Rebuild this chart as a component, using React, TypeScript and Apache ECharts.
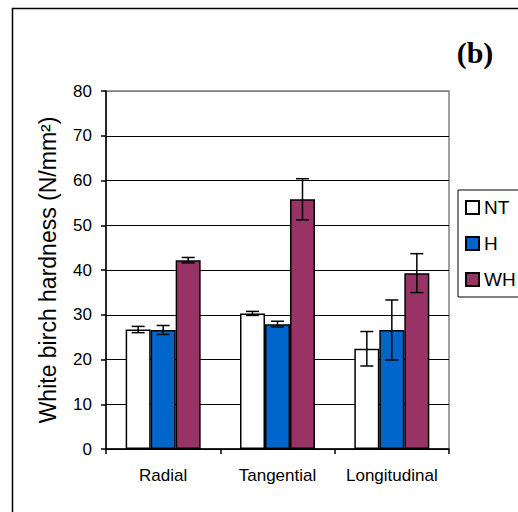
import React, { useEffect, useRef } from "react";
import * as echarts from "echarts";

const categories = ["Radial", "Tangential", "Longitudinal"];
const seriesNames = ["NT", "H", "WH"];
const ntMean = [26.7, 30.3, 22.4];
const ntErr = [0.7, 0.45, 3.85];
const hMean = [26.6, 27.9, 26.6];
const hErr = [1.0, 0.65, 6.7];
const whMean = [42.2, 55.8, 39.3];
const whErr = [0.6, 4.6, 4.35];
const yTicks = [0, 10, 20, 30, 40, 50, 60, 70, 80];

const colors = ["#FFFFFF", "#0066CC", "#993366"];
const BAR_W = 25;
const FONT = "Liberation Sans, Arial, sans-serif";

const means = [ntMean, hMean, whMean];
const errs = [ntErr, hErr, whErr];

export default function App() {
  const ref = useRef<HTMLDivElement>(null);
  useEffect(() => {
    if (!ref.current) return;
    const chart = echarts.init(ref.current, undefined, { renderer: "svg" });

    const barSeries = seriesNames.map((name, i) => ({
      name,
      type: "bar",
      data: means[i],
      barWidth: BAR_W,
      barGap: "0%",
      itemStyle: { color: colors[i], borderColor: "#000", borderWidth: 1.5 },
      z: 2,
    }));

    const errSeries = seriesNames.map((name, i) => ({
      name: name + "-err",
      type: "custom",
      data: categories.map((_, c) => [c, means[i][c] - errs[i][c], means[i][c] + errs[i][c]]),
      encode: { x: 0, y: [1, 2] },
      z: 5,
      silent: true,
      renderItem: (params: any, api: any) => {
        const c = api.value(0);
        const lo = api.coord([c, api.value(1)]);
        const hi = api.coord([c, api.value(2)]);
        const x = lo[0] + (i - 1) * BAR_W;
        const cap = 6.5;
        const style = { stroke: "#000", lineWidth: 1.5 };
        return {
          type: "group",
          children: [
            { type: "line", shape: { x1: x, y1: lo[1], x2: x, y2: hi[1] }, style },
            { type: "line", shape: { x1: x - cap, y1: lo[1], x2: x + cap, y2: lo[1] }, style },
            { type: "line", shape: { x1: x - cap, y1: hi[1], x2: x + cap, y2: hi[1] }, style },
          ],
        };
      },
    }));

    const splitColors = yTicks.map((t, k) => (k === yTicks.length - 1 ? "#808080" : "#000"));

    chart.setOption({
      animation: false,
      backgroundColor: "#fff",
      grid: {
        left: 106,
        right: 69,
        top: 91,
        bottom: 63,
        show: true,
        borderColor: "#808080",
        borderWidth: 1.5,
        backgroundColor: "transparent",
      },
      legend: {
        data: seriesNames,
        orient: "vertical",
        left: 458,
        top: 190,
        icon: "rect",
        itemWidth: 13,
        itemHeight: 13,
        itemGap: 17,
        padding: [8, 40, 8, 7],
        borderColor: "#000",
        borderWidth: 1,
        backgroundColor: "#fff",
        textStyle: { fontFamily: FONT, fontSize: 19, color: "#000" },
      },
      xAxis: {
        type: "category",
        data: categories,
        axisLine: { lineStyle: { color: "#000", width: 1.5 } },
        axisTick: { show: true, length: 5, lineStyle: { color: "#000", width: 1.5 } },
        axisLabel: { fontFamily: FONT, fontSize: 17, color: "#000", margin: 18, interval: 0 },
      },
      yAxis: {
        type: "value",
        min: 0,
        max: 80,
        interval: 10,
        name: "White birch hardness (N/mm²)",
        nameLocation: "middle",
        nameGap: 47,
        nameTextStyle: { fontFamily: FONT, fontSize: 23, color: "#000" },
        axisLine: { show: true, lineStyle: { color: "#000", width: 1.5 } },
        axisTick: { show: true, length: 5, lineStyle: { color: "#000", width: 1.5 } },
        axisLabel: { fontFamily: FONT, fontSize: 17, color: "#000", margin: 14 },
        splitLine: { show: true, lineStyle: { color: splitColors, width: 1.2 } },
      },
      graphic: [
        {
          type: "rect",
          left: 10,
          top: 6,
          shape: { x: 0, y: 0, width: 600, height: 600 },
          style: { fill: "none", stroke: "#000", lineWidth: 1.5 },
          silent: true,
          z: -10,
        },
        {
          type: "text",
          x: 475,
          y: 52,
          style: {
            text: "(b)",
            fontFamily: "Liberation Serif, Times New Roman, serif",
            fontWeight: "bold",
            fontSize: 30,
            fill: "#000",
            align: "center",
            verticalAlign: "middle",
          },
        },
      ],
      series: [...barSeries, ...errSeries],
    });
    return () => chart.dispose();
  }, []);
  return (
    <div style={{ position: "fixed", left: 0, top: 0, width: 518, height: 512, background: "#fff" }}>
      <div ref={ref} style={{ width: 518, height: 512 }} />
    </div>
  );
}
